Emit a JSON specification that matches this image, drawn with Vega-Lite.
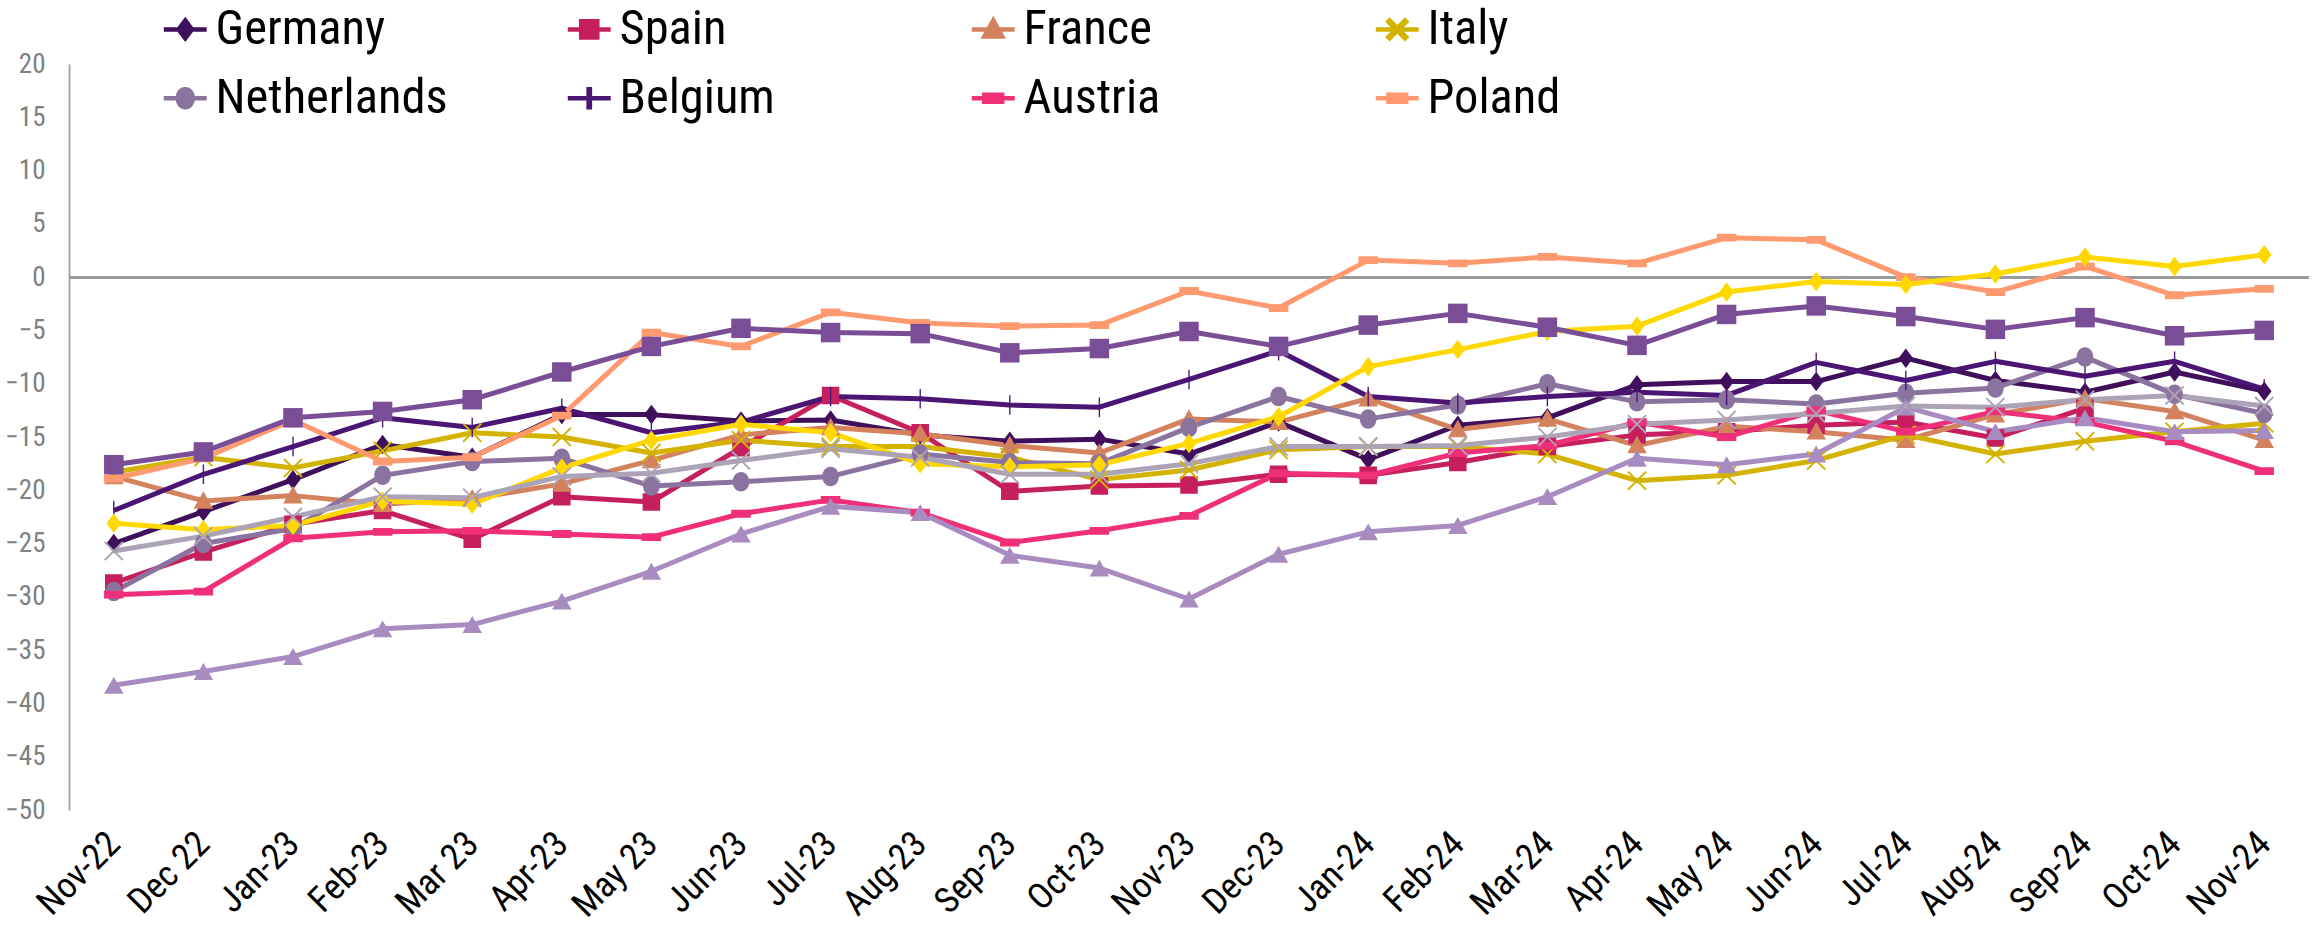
{
"$schema": "https://vega.github.io/schema/vega-lite/v6.json",
"width": 2240, "height": 746,
"autosize": {"type": "none"},
"padding": {"left": 69, "top": 64, "right": 4, "bottom": 123},
"background": "white",
"config": {"view": {"stroke": null}, "font": "Roboto Condensed, Liberation Sans Narrow, DejaVu Sans Condensed, Roboto, sans-serif"},
"data": {"values": [
{"m":"Nov-22","c":"Germany","v":-25.0},{"m":"Dec 22","c":"Germany","v":-22.0},{"m":"Jan-23","c":"Germany","v":-19.0},{"m":"Feb-23","c":"Germany","v":-15.7},{"m":"Mar 23","c":"Germany","v":-16.9},{"m":"Apr-23","c":"Germany","v":-12.9},{"m":"May 23","c":"Germany","v":-12.9},{"m":"Jun-23","c":"Germany","v":-13.5},{"m":"Jul-23","c":"Germany","v":-13.4},{"m":"Aug-23","c":"Germany","v":-14.8},{"m":"Sep-23","c":"Germany","v":-15.4},{"m":"Oct-23","c":"Germany","v":-15.2},{"m":"Nov-23","c":"Germany","v":-16.6},{"m":"Dec-23","c":"Germany","v":-13.6},{"m":"Jan-24","c":"Germany","v":-17.1},{"m":"Feb-24","c":"Germany","v":-13.9},{"m":"Mar-24","c":"Germany","v":-13.2},{"m":"Apr-24","c":"Germany","v":-10.1},{"m":"May 24","c":"Germany","v":-9.8},{"m":"Jun-24","c":"Germany","v":-9.8},{"m":"Jul-24","c":"Germany","v":-7.6},{"m":"Aug-24","c":"Germany","v":-9.7},{"m":"Sep-24","c":"Germany","v":-10.8},{"m":"Oct-24","c":"Germany","v":-8.9},{"m":"Nov-24","c":"Germany","v":-10.7},
{"m":"Nov-22","c":"Spain","v":-28.7},{"m":"Dec 22","c":"Spain","v":-25.8},{"m":"Jan-23","c":"Spain","v":-23.2},{"m":"Feb-23","c":"Spain","v":-21.9},{"m":"Mar 23","c":"Spain","v":-24.6},{"m":"Apr-23","c":"Spain","v":-20.6},{"m":"May 23","c":"Spain","v":-21.1},{"m":"Jun-23","c":"Spain","v":-16.0},{"m":"Jul-23","c":"Spain","v":-11.1},{"m":"Aug-23","c":"Spain","v":-14.6},{"m":"Sep-23","c":"Spain","v":-20.1},{"m":"Oct-23","c":"Spain","v":-19.6},{"m":"Nov-23","c":"Spain","v":-19.5},{"m":"Dec-23","c":"Spain","v":-18.5},{"m":"Jan-24","c":"Spain","v":-18.6},{"m":"Feb-24","c":"Spain","v":-17.4},{"m":"Mar-24","c":"Spain","v":-15.9},{"m":"Apr-24","c":"Spain","v":-14.8},{"m":"May 24","c":"Spain","v":-14.5},{"m":"Jun-24","c":"Spain","v":-13.9},{"m":"Jul-24","c":"Spain","v":-13.6},{"m":"Aug-24","c":"Spain","v":-15.1},{"m":"Sep-24","c":"Spain","v":-12.3},
{"m":"Nov-22","c":"France","v":-18.7},{"m":"Dec 22","c":"France","v":-21.0},{"m":"Jan-23","c":"France","v":-20.5},{"m":"Feb-23","c":"France","v":-21.3},{"m":"Mar 23","c":"France","v":-20.8},{"m":"Apr-23","c":"France","v":-19.4},{"m":"May 23","c":"France","v":-17.2},{"m":"Jun-23","c":"France","v":-14.8},{"m":"Jul-23","c":"France","v":-14.1},{"m":"Aug-23","c":"France","v":-14.7},{"m":"Sep-23","c":"France","v":-15.8},{"m":"Oct-23","c":"France","v":-16.5},{"m":"Nov-23","c":"France","v":-13.3},{"m":"Dec-23","c":"France","v":-13.6},{"m":"Jan-24","c":"France","v":-11.4},{"m":"Feb-24","c":"France","v":-14.3},{"m":"Mar-24","c":"France","v":-13.3},{"m":"Apr-24","c":"France","v":-15.8},{"m":"May 24","c":"France","v":-14.0},{"m":"Jun-24","c":"France","v":-14.5},{"m":"Jul-24","c":"France","v":-15.3},{"m":"Aug-24","c":"France","v":-12.9},{"m":"Sep-24","c":"France","v":-11.4},{"m":"Oct-24","c":"France","v":-12.6},{"m":"Nov-24","c":"France","v":-15.3},
{"m":"Nov-22","c":"Italy","v":-18.3},{"m":"Dec 22","c":"Italy","v":-16.9},{"m":"Jan-23","c":"Italy","v":-17.9},{"m":"Feb-23","c":"Italy","v":-16.3},{"m":"Mar 23","c":"Italy","v":-14.6},{"m":"Apr-23","c":"Italy","v":-15.0},{"m":"May 23","c":"Italy","v":-16.5},{"m":"Jun-23","c":"Italy","v":-15.3},{"m":"Jul-23","c":"Italy","v":-15.9},{"m":"Aug-23","c":"Italy","v":-15.9},{"m":"Sep-23","c":"Italy","v":-16.9},{"m":"Oct-23","c":"Italy","v":-19.0},{"m":"Nov-23","c":"Italy","v":-18.1},{"m":"Dec-23","c":"Italy","v":-16.2},{"m":"Jan-24","c":"Italy","v":-15.9},{"m":"Feb-24","c":"Italy","v":-15.9},{"m":"Mar-24","c":"Italy","v":-16.6},{"m":"Apr-24","c":"Italy","v":-19.1},{"m":"May 24","c":"Italy","v":-18.6},{"m":"Jun-24","c":"Italy","v":-17.2},{"m":"Jul-24","c":"Italy","v":-14.8},{"m":"Aug-24","c":"Italy","v":-16.6},{"m":"Sep-24","c":"Italy","v":-15.4},{"m":"Oct-24","c":"Italy","v":-14.5},{"m":"Nov-24","c":"Italy","v":-13.7},
{"m":"Nov-22","c":"Netherlands","v":-29.5},{"m":"Dec 22","c":"Netherlands","v":-25.0},{"m":"Jan-23","c":"Netherlands","v":-23.6},{"m":"Feb-23","c":"Netherlands","v":-18.6},{"m":"Mar 23","c":"Netherlands","v":-17.3},{"m":"Apr-23","c":"Netherlands","v":-17.0},{"m":"May 23","c":"Netherlands","v":-19.6},{"m":"Jun-23","c":"Netherlands","v":-19.2},{"m":"Jul-23","c":"Netherlands","v":-18.7},{"m":"Aug-23","c":"Netherlands","v":-16.6},{"m":"Sep-23","c":"Netherlands","v":-17.4},{"m":"Oct-23","c":"Netherlands","v":-17.5},{"m":"Nov-23","c":"Netherlands","v":-14.1},{"m":"Dec-23","c":"Netherlands","v":-11.2},{"m":"Jan-24","c":"Netherlands","v":-13.3},{"m":"Feb-24","c":"Netherlands","v":-12.0},{"m":"Mar-24","c":"Netherlands","v":-10.0},{"m":"Apr-24","c":"Netherlands","v":-11.7},{"m":"May 24","c":"Netherlands","v":-11.5},{"m":"Jun-24","c":"Netherlands","v":-11.9},{"m":"Jul-24","c":"Netherlands","v":-10.9},{"m":"Aug-24","c":"Netherlands","v":-10.4},{"m":"Sep-24","c":"Netherlands","v":-7.5},{"m":"Oct-24","c":"Netherlands","v":-11.0},{"m":"Nov-24","c":"Netherlands","v":-12.8},
{"m":"Nov-22","c":"Belgium","v":-21.9},{"m":"Dec 22","c":"Belgium","v":-18.5},{"m":"Jan-23","c":"Belgium","v":-15.9},{"m":"Feb-23","c":"Belgium","v":-13.2},{"m":"Mar 23","c":"Belgium","v":-14.1},{"m":"Apr-23","c":"Belgium","v":-12.3},{"m":"May 23","c":"Belgium","v":-14.6},{"m":"Jun-23","c":"Belgium","v":-13.6},{"m":"Jul-23","c":"Belgium","v":-11.2},{"m":"Aug-23","c":"Belgium","v":-11.4},{"m":"Sep-23","c":"Belgium","v":-12.0},{"m":"Oct-23","c":"Belgium","v":-12.2},{"m":"Nov-23","c":"Belgium","v":-9.6},{"m":"Dec-23","c":"Belgium","v":-6.9},{"m":"Jan-24","c":"Belgium","v":-11.2},{"m":"Feb-24","c":"Belgium","v":-11.8},{"m":"Mar-24","c":"Belgium","v":-11.2},{"m":"Apr-24","c":"Belgium","v":-10.8},{"m":"May 24","c":"Belgium","v":-11.1},{"m":"Jun-24","c":"Belgium","v":-8.0},{"m":"Jul-24","c":"Belgium","v":-9.7},{"m":"Aug-24","c":"Belgium","v":-7.9},{"m":"Sep-24","c":"Belgium","v":-9.3},{"m":"Oct-24","c":"Belgium","v":-7.9},{"m":"Nov-24","c":"Belgium","v":-10.5},
{"m":"Nov-22","c":"Austria","v":-29.8},{"m":"Dec 22","c":"Austria","v":-29.5},{"m":"Jan-23","c":"Austria","v":-24.5},{"m":"Feb-23","c":"Austria","v":-23.9},{"m":"Mar 23","c":"Austria","v":-23.8},{"m":"Apr-23","c":"Austria","v":-24.1},{"m":"May 23","c":"Austria","v":-24.4},{"m":"Jun-23","c":"Austria","v":-22.2},{"m":"Jul-23","c":"Austria","v":-20.9},{"m":"Aug-23","c":"Austria","v":-22.1},{"m":"Sep-23","c":"Austria","v":-24.9},{"m":"Oct-23","c":"Austria","v":-23.8},{"m":"Nov-23","c":"Austria","v":-22.4},{"m":"Dec-23","c":"Austria","v":-18.4},{"m":"Jan-24","c":"Austria","v":-18.6},{"m":"Feb-24","c":"Austria","v":-16.5},{"m":"Mar-24","c":"Austria","v":-15.8},{"m":"Apr-24","c":"Austria","v":-13.6},{"m":"May 24","c":"Austria","v":-15.0},{"m":"Jun-24","c":"Austria","v":-12.5},{"m":"Jul-24","c":"Austria","v":-14.5},{"m":"Aug-24","c":"Austria","v":-12.6},{"m":"Sep-24","c":"Austria","v":-13.6},{"m":"Oct-24","c":"Austria","v":-15.4},{"m":"Nov-24","c":"Austria","v":-18.2},
{"m":"Nov-22","c":"Poland","v":-18.9},{"m":"Dec 22","c":"Poland","v":-17.0},{"m":"Jan-23","c":"Poland","v":-13.4},{"m":"Feb-23","c":"Poland","v":-17.3},{"m":"Mar 23","c":"Poland","v":-16.9},{"m":"Apr-23","c":"Poland","v":-13.0},{"m":"May 23","c":"Poland","v":-5.2},{"m":"Jun-23","c":"Poland","v":-6.5},{"m":"Jul-23","c":"Poland","v":-3.3},{"m":"Aug-23","c":"Poland","v":-4.3},{"m":"Sep-23","c":"Poland","v":-4.6},{"m":"Oct-23","c":"Poland","v":-4.5},{"m":"Nov-23","c":"Poland","v":-1.3},{"m":"Dec-23","c":"Poland","v":-2.9},{"m":"Jan-24","c":"Poland","v":1.6},{"m":"Feb-24","c":"Poland","v":1.3},{"m":"Mar-24","c":"Poland","v":1.9},{"m":"Apr-24","c":"Poland","v":1.3},{"m":"May 24","c":"Poland","v":3.7},{"m":"Jun-24","c":"Poland","v":3.5},{"m":"Jul-24","c":"Poland","v":0.0},{"m":"Aug-24","c":"Poland","v":-1.4},{"m":"Sep-24","c":"Poland","v":1.0},{"m":"Oct-24","c":"Poland","v":-1.7},{"m":"Nov-24","c":"Poland","v":-1.1},
{"m":"Nov-22","c":"Series 9","v":-23.1},{"m":"Dec 22","c":"Series 9","v":-23.7},{"m":"Jan-23","c":"Series 9","v":-23.3},{"m":"Feb-23","c":"Series 9","v":-21.0},{"m":"Mar 23","c":"Series 9","v":-21.3},{"m":"Apr-23","c":"Series 9","v":-17.9},{"m":"May 23","c":"Series 9","v":-15.3},{"m":"Jun-23","c":"Series 9","v":-13.8},{"m":"Jul-23","c":"Series 9","v":-14.6},{"m":"Aug-23","c":"Series 9","v":-17.5},{"m":"Sep-23","c":"Series 9","v":-17.8},{"m":"Oct-23","c":"Series 9","v":-17.6},{"m":"Nov-23","c":"Series 9","v":-15.6},{"m":"Dec-23","c":"Series 9","v":-13.1},{"m":"Jan-24","c":"Series 9","v":-8.4},{"m":"Feb-24","c":"Series 9","v":-6.8},{"m":"Mar-24","c":"Series 9","v":-5.1},{"m":"Apr-24","c":"Series 9","v":-4.6},{"m":"May 24","c":"Series 9","v":-1.4},{"m":"Jun-24","c":"Series 9","v":-0.4},{"m":"Jul-24","c":"Series 9","v":-0.7},{"m":"Aug-24","c":"Series 9","v":0.3},{"m":"Sep-24","c":"Series 9","v":1.9},{"m":"Oct-24","c":"Series 9","v":1.0},{"m":"Nov-24","c":"Series 9","v":2.1},
{"m":"Nov-22","c":"Series 10","v":-17.6},{"m":"Dec 22","c":"Series 10","v":-16.4},{"m":"Jan-23","c":"Series 10","v":-13.2},{"m":"Feb-23","c":"Series 10","v":-12.6},{"m":"Mar 23","c":"Series 10","v":-11.5},{"m":"Apr-23","c":"Series 10","v":-8.9},{"m":"May 23","c":"Series 10","v":-6.5},{"m":"Jun-23","c":"Series 10","v":-4.8},{"m":"Jul-23","c":"Series 10","v":-5.2},{"m":"Aug-23","c":"Series 10","v":-5.3},{"m":"Sep-23","c":"Series 10","v":-7.1},{"m":"Oct-23","c":"Series 10","v":-6.7},{"m":"Nov-23","c":"Series 10","v":-5.1},{"m":"Dec-23","c":"Series 10","v":-6.5},{"m":"Jan-24","c":"Series 10","v":-4.5},{"m":"Feb-24","c":"Series 10","v":-3.4},{"m":"Mar-24","c":"Series 10","v":-4.7},{"m":"Apr-24","c":"Series 10","v":-6.4},{"m":"May 24","c":"Series 10","v":-3.5},{"m":"Jun-24","c":"Series 10","v":-2.7},{"m":"Jul-24","c":"Series 10","v":-3.7},{"m":"Aug-24","c":"Series 10","v":-4.9},{"m":"Sep-24","c":"Series 10","v":-3.8},{"m":"Oct-24","c":"Series 10","v":-5.5},{"m":"Nov-24","c":"Series 10","v":-5.0},
{"m":"Nov-22","c":"Series 11","v":-38.3},{"m":"Dec 22","c":"Series 11","v":-37.0},{"m":"Jan-23","c":"Series 11","v":-35.6},{"m":"Feb-23","c":"Series 11","v":-33.0},{"m":"Mar 23","c":"Series 11","v":-32.6},{"m":"Apr-23","c":"Series 11","v":-30.4},{"m":"May 23","c":"Series 11","v":-27.6},{"m":"Jun-23","c":"Series 11","v":-24.1},{"m":"Jul-23","c":"Series 11","v":-21.5},{"m":"Aug-23","c":"Series 11","v":-22.1},{"m":"Sep-23","c":"Series 11","v":-26.1},{"m":"Oct-23","c":"Series 11","v":-27.3},{"m":"Nov-23","c":"Series 11","v":-30.2},{"m":"Dec-23","c":"Series 11","v":-26.0},{"m":"Jan-24","c":"Series 11","v":-23.9},{"m":"Feb-24","c":"Series 11","v":-23.3},{"m":"Mar-24","c":"Series 11","v":-20.6},{"m":"Apr-24","c":"Series 11","v":-17.0},{"m":"May 24","c":"Series 11","v":-17.6},{"m":"Jun-24","c":"Series 11","v":-16.6},{"m":"Jul-24","c":"Series 11","v":-12.2},{"m":"Aug-24","c":"Series 11","v":-14.5},{"m":"Sep-24","c":"Series 11","v":-13.2},{"m":"Oct-24","c":"Series 11","v":-14.5},{"m":"Nov-24","c":"Series 11","v":-14.4},
{"m":"Nov-22","c":"Series 12","v":-25.7},{"m":"Dec 22","c":"Series 12","v":-24.3},{"m":"Jan-23","c":"Series 12","v":-22.5},{"m":"Feb-23","c":"Series 12","v":-20.6},{"m":"Mar 23","c":"Series 12","v":-20.7},{"m":"Apr-23","c":"Series 12","v":-18.7},{"m":"May 23","c":"Series 12","v":-18.4},{"m":"Jun-23","c":"Series 12","v":-17.2},{"m":"Jul-23","c":"Series 12","v":-16.1},{"m":"Aug-23","c":"Series 12","v":-16.9},{"m":"Sep-23","c":"Series 12","v":-18.5},{"m":"Oct-23","c":"Series 12","v":-18.5},{"m":"Nov-23","c":"Series 12","v":-17.5},{"m":"Dec-23","c":"Series 12","v":-15.9},{"m":"Jan-24","c":"Series 12","v":-15.9},{"m":"Feb-24","c":"Series 12","v":-15.8},{"m":"Mar-24","c":"Series 12","v":-15.0},{"m":"Apr-24","c":"Series 12","v":-13.8},{"m":"May 24","c":"Series 12","v":-13.4},{"m":"Jun-24","c":"Series 12","v":-12.8},{"m":"Jul-24","c":"Series 12","v":-12.1},{"m":"Aug-24","c":"Series 12","v":-12.2},{"m":"Sep-24","c":"Series 12","v":-11.5},{"m":"Oct-24","c":"Series 12","v":-11.1},{"m":"Nov-24","c":"Series 12","v":-12.1}
]},
"layer": [
{"mark": {"type": "rule", "color": "#9a9a9a", "strokeWidth": 2}, "encoding": {"y": {"datum": 0, "type": "quantitative", "scale": {"domain": [-50, 20], "nice": false, "zero": false}}}},
{"mark": {"type": "line", "strokeWidth": 5, "strokeJoin": "round"},
 "encoding": {
  "x": {"field": "m", "type": "ordinal", "sort": ["Nov-22","Dec 22","Jan-23","Feb-23","Mar 23","Apr-23","May 23","Jun-23","Jul-23","Aug-23","Sep-23","Oct-23","Nov-23","Dec-23","Jan-24","Feb-24","Mar-24","Apr-24","May 24","Jun-24","Jul-24","Aug-24","Sep-24","Oct-24","Nov-24"], "scale": {"type": "point", "padding": 0.5},
        "axis": {"title": null, "domain": false, "ticks": false, "labelAngle": -45, "labelAlign": "right", "labelBaseline": "middle", "labelFontSize": 36, "labelColor": "#000000", "labelPadding": 28}},
  "y": {"field": "v", "type": "quantitative", "scale": {"domain": [-50, 20], "nice": false, "zero": false},
        "axis": {"title": null, "values": [-50,-45,-40,-35,-30,-25,-20,-15,-10,-5,0,5,10,15,20], "grid": false, "ticks": false, "domainColor": "#a6a6a6", "domainWidth": 2, "labelColor": "#808080", "labelFontSize": 27, "labelPadding": 24}},
  "stroke": {"field": "c", "type": "nominal",
    "scale": {"domain": ["Germany","Spain","France","Italy","Netherlands","Belgium","Austria","Poland","Series 9","Series 10","Series 11","Series 12"],
              "range": ["#3f0f5c","#c51f5d","#d4825e","#d4b300","#8b739f","#4b1574","#ef2f77","#ff9a70","#ffd800","#7a4e96","#a88bc0","#aca4b6"]},
    "legend": {"values": ["Germany","Spain","France","Italy","Netherlands","Belgium","Austria","Poland"], "orient": "none", "legendX": 92, "legendY": -59, "columns": 4, "direction": "horizontal", "title": null, "labelFontSize": 48.5, "labelColor": "#000000", "symbolSize": 320, "symbolStrokeWidth": 4.5, "labelOffset": 6, "columnPadding": 110, "rowPadding": 20, "gridAlign": "all", "padding": 0, "labelLimit": 500}}
 }},
{"mark": {"type": "point", "filled": true, "opacity": 1, "size": 380, "strokeWidth": 0},
 "encoding": {
  "x": {"field": "m", "type": "ordinal", "sort": ["Nov-22","Dec 22","Jan-23","Feb-23","Mar 23","Apr-23","May 23","Jun-23","Jul-23","Aug-23","Sep-23","Oct-23","Nov-23","Dec-23","Jan-24","Feb-24","Mar-24","Apr-24","May 24","Jun-24","Jul-24","Aug-24","Sep-24","Oct-24","Nov-24"]},
  "y": {"field": "v", "type": "quantitative"},
  "fill": {"field": "c", "type": "nominal",
    "scale": {"domain": ["Germany","Spain","France","Italy","Netherlands","Belgium","Austria","Poland","Series 9","Series 10","Series 11","Series 12"],
              "range": ["#3f0f5c","#c51f5d","#d4825e","#d4b300","#8b739f","#4b1574","#ef2f77","#ff9a70","#ffd800","#7a4e96","#a88bc0","#aca4b6"]},
    "legend": {"values": ["Germany","Spain","France","Italy","Netherlands","Belgium","Austria","Poland"], "orient": "none", "legendX": 92, "legendY": -59, "columns": 4, "direction": "horizontal", "title": null, "labelFontSize": 48.5, "labelColor": "#000000", "symbolSize": 320, "symbolStrokeWidth": 4.5, "labelOffset": 6, "columnPadding": 110, "rowPadding": 20, "gridAlign": "all", "padding": 0, "labelLimit": 500}},
  "shape": {"field": "c", "type": "nominal",
    "scale": {"domain": ["Germany","Spain","France","Italy","Netherlands","Belgium","Austria","Poland","Series 9","Series 10","Series 11","Series 12"],
              "range": ["M-2.4,0H2.4M0,-1L0.75,0L0,1L-0.75,0Z","M-2.4,0H2.4M-0.9,-0.9H0.9V0.9H-0.9Z","M-2.4,0H2.4M0,-1L1,0.8L-1,0.8Z","M-2.4,0H2.4M-1,-0.86L-0.86,-1L0,-0.14L0.86,-1L1,-0.86L0.14,0L1,0.86L0.86,1L0,0.14L-0.86,1L-1,0.86L-0.14,0Z","M-2.4,0H2.4M0,-1C0.5,-1 0.85,-0.55 0.85,0C0.85,0.55 0.5,1 0,1C-0.5,1 -0.85,0.55 -0.85,0C-0.85,-0.55 -0.5,-1 0,-1Z","M-2.4,0H2.4M-0.07,-1H0.07V1H-0.07Z","M-2.4,0H2.4M-1,-0.4H1V0.4H-1Z","M-2.4,0H2.4M-1,-0.4H1V0.4H-1Z","M0,-1L0.75,0L0,1L-0.75,0Z","square","triangle-up","M-1,-0.86L-0.86,-1L0,-0.14L0.86,-1L1,-0.86L0.14,0L1,0.86L0.86,1L0,0.14L-0.86,1L-1,0.86L-0.14,0Z"]},
    "legend": {"values": ["Germany","Spain","France","Italy","Netherlands","Belgium","Austria","Poland"], "orient": "none", "legendX": 92, "legendY": -59, "columns": 4, "direction": "horizontal", "title": null, "labelFontSize": 48.5, "labelColor": "#000000", "symbolSize": 320, "symbolStrokeWidth": 4.5, "labelOffset": 6, "columnPadding": 110, "rowPadding": 20, "gridAlign": "all", "padding": 0, "labelLimit": 500}}
 }}
]
}
